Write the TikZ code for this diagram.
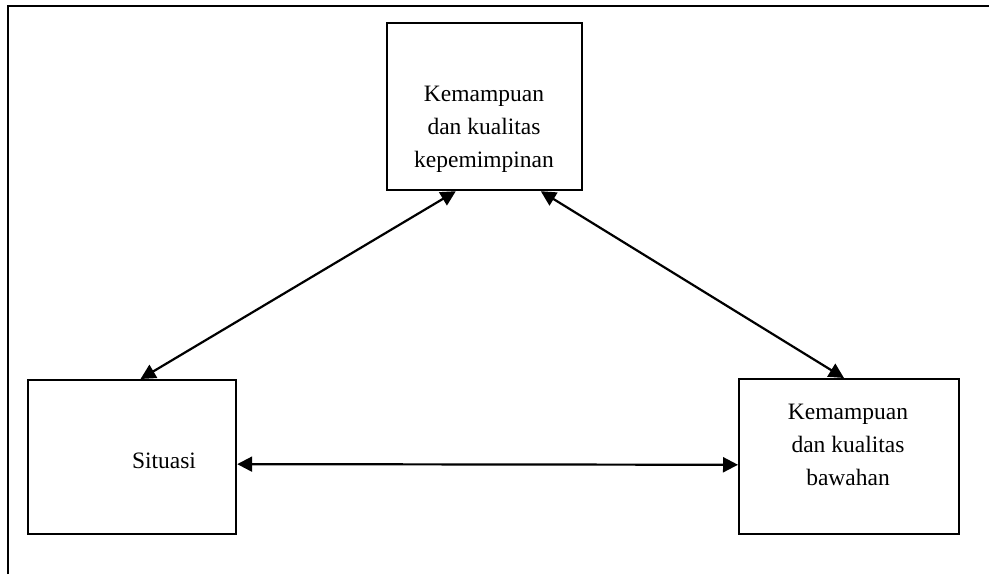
\documentclass[tikz,border=0pt]{standalone}
\usepackage{fontspec}
\setmainfont{Liberation Serif}
\usetikzlibrary{arrows.meta,calc}
\begin{document}
\begin{tikzpicture}[x=1pt,y=-1pt,
  box/.style={draw=black,line width=2.2pt,inner sep=0pt},
  lbl/.style={align=center,font=\fontsize{23.5}{33}\selectfont,inner sep=0pt},
  link/.style={line width=2.2pt,{Triangle[length=15pt,width=15pt]}-{Triangle[length=15pt,width=15pt]}}]
\useasboundingbox (0,0) rectangle (989,574);
\draw[line width=2.2pt] (8,574) -- (8,6) -- (989,6);
\node[box,minimum width=195pt,minimum height=167pt,anchor=north west] (top) at (386,22) {};
\node[box,minimum width=208pt,minimum height=154pt,anchor=north west] (left) at (27,379) {};
\node[box,minimum width=220pt,minimum height=155pt,anchor=north west] (right) at (738,378) {};
\node[lbl] (toptext) at (484,129) {Kemampuan\\dan kualitas\\kepemimpinan};
\node[lbl] (lefttext) at (164,461) {Situasi};
\node[lbl] (righttext) at (848,445) {Kemampuan\\dan kualitas\\bawahan};
\coordinate (t1) at ($(top.south west)!0.354!(top.south east)$);
\coordinate (t2) at ($(top.south west)!0.785!(top.south east)$);
\coordinate (l1) at ($(left.north west)!0.54!(left.north east)$);
\coordinate (r1) at ($(right.north west)!0.477!(right.north east)$);
\coordinate (l2) at ($(left.north east)!0.545!(left.south east)$);
\coordinate (r2) at ($(right.north west)!0.552!(right.south west)$);
\draw[link] (t1) -- (l1);
\draw[link] (t2) -- (r1);
\draw[link] (l2) -- (r2);
\end{tikzpicture}
\end{document}
